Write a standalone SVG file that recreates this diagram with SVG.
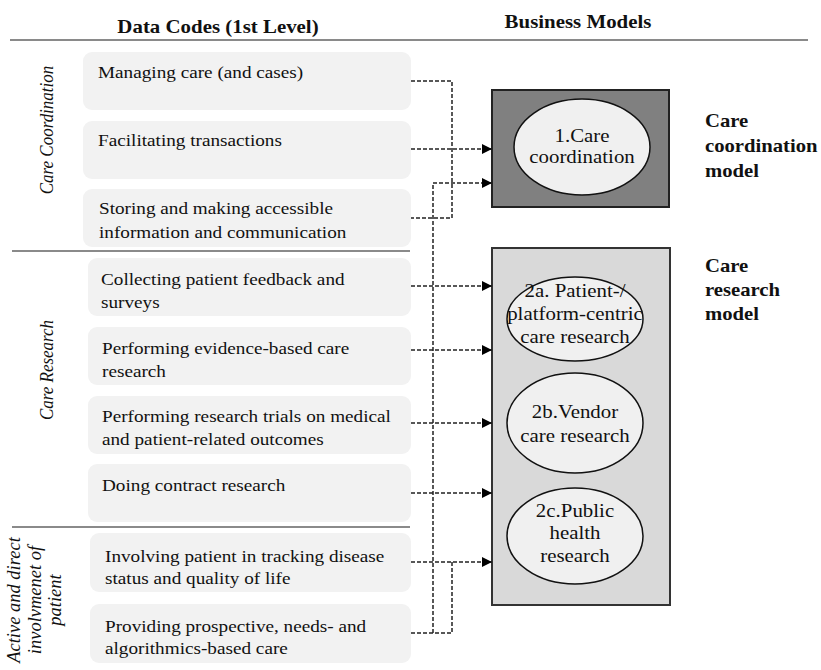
<svg xmlns="http://www.w3.org/2000/svg" width="821" height="670" viewBox="0 0 821 670">
<style>
.bg{fill:#ffffff}
.code rect{fill:#f2f2f2;stroke:none}
.t{font-family:"Liberation Serif","Times New Roman",serif;font-size:17px;fill:#111}
.h{font-family:"Liberation Serif","Times New Roman",serif;font-size:18.5px;font-weight:bold;fill:#111;text-anchor:middle}
.lab{font-family:"Liberation Serif","Times New Roman",serif;font-size:18px;font-weight:bold;fill:#111}
.cat{font-family:"Liberation Serif","Times New Roman",serif;font-size:17px;font-style:italic;fill:#111;text-anchor:middle}
.cat2{font-family:"Liberation Serif","Times New Roman",serif;font-size:18.5px;font-style:italic;fill:#111;text-anchor:middle}
.et{font-family:"Liberation Serif","Times New Roman",serif;font-size:18.5px;fill:#111;text-anchor:middle}
.sep{stroke:#8a8a8a;stroke-width:2;fill:none}
.ell{fill:#f0f0f0;stroke:#111;stroke-width:1.5}
.conn path{fill:none;stroke:#222;stroke-width:1.5;stroke-dasharray:4 2}
</style>
<defs>
<marker id="arr" markerUnits="userSpaceOnUse" markerWidth="10" markerHeight="10" refX="10" refY="5" orient="auto">
<path d="M0,0 L10,5 L0,10 z" fill="#000"/>
</marker>
</defs>
<rect class="bg" x="0" y="0" width="821" height="670"/>

<g id="headers">
<text class="h" transform="translate(218,33) scale(1.13 1)" x="0" y="0">Data Codes (1st Level)</text>
<text class="h" transform="translate(578,28) scale(1.13 1)" x="0" y="0">Business Models</text>
<path class="sep" d="M10,40 H808"/>
<path class="sep" d="M12,251 H410"/>
<path class="sep" d="M12,527 H410"/>
</g>

<g id="categories">
<text class="cat" transform="translate(53,130) rotate(-90) scale(1 1.13)" x="0" y="0">Care Coordination</text>
<text class="cat" transform="translate(53,370) rotate(-90) scale(1 1.13)" x="0" y="0">Care Research</text>
<text class="cat2" transform="translate(20,600) rotate(-90)" x="0" y="0">Active and direct</text>
<text class="cat2" transform="translate(41,600) rotate(-90)" x="0" y="0">involvmenet of</text>
<text class="cat2" transform="translate(61,600) rotate(-90)" x="0" y="0">patient</text>
</g>

<g id="code1" class="code"><rect x="83" y="52" width="328" height="58" rx="9"/>
<text class="t" transform="translate(98,78) scale(1.13 1)"><tspan x="0" y="0">Managing care (and cases)</tspan></text></g>
<g id="code2" class="code"><rect x="83" y="121" width="328" height="58" rx="9"/>
<text class="t" transform="translate(98,146) scale(1.13 1)"><tspan x="0" y="0">Facilitating transactions</tspan></text></g>
<g id="code3" class="code"><rect x="83" y="189" width="328" height="58" rx="9"/>
<text class="t" transform="translate(99,214) scale(1.13 1)"><tspan x="0" y="0">Storing and making accessible</tspan><tspan x="0" y="24">information and communication</tspan></text></g>
<g id="code4" class="code"><rect x="88" y="258" width="323" height="58" rx="9"/>
<text class="t" transform="translate(101,285) scale(1.13 1)"><tspan x="0" y="0">Collecting patient feedback and</tspan><tspan x="0" y="23">surveys</tspan></text></g>
<g id="code5" class="code"><rect x="88" y="327" width="323" height="58" rx="9"/>
<text class="t" transform="translate(102,354) scale(1.13 1)"><tspan x="0" y="0">Performing evidence-based care</tspan><tspan x="0" y="23">research</tspan></text></g>
<g id="code6" class="code"><rect x="88" y="396" width="323" height="58" rx="9"/>
<text class="t" transform="translate(102,422) scale(1.13 1)"><tspan x="0" y="0">Performing research trials on medical</tspan><tspan x="0" y="23">and patient-related outcomes</tspan></text></g>
<g id="code7" class="code"><rect x="88" y="464" width="323" height="58" rx="9"/>
<text class="t" transform="translate(102,491) scale(1.13 1)"><tspan x="0" y="0">Doing contract research</tspan></text></g>
<g id="code8" class="code"><rect x="90" y="533" width="321" height="59" rx="9"/>
<text class="t" transform="translate(105,562) scale(1.13 1)"><tspan x="0" y="0">Involving patient in tracking disease</tspan><tspan x="0" y="22">status and quality of life</tspan></text></g>
<g id="code9" class="code"><rect x="90" y="604" width="321" height="59" rx="9"/>
<text class="t" transform="translate(105,632) scale(1.13 1)"><tspan x="0" y="0">Providing prospective, needs- and</tspan><tspan x="0" y="22">algorithmics-based care</tspan></text></g>

<g id="model1">
<rect x="492" y="90" width="177" height="117" fill="#808080" stroke="#222" stroke-width="2"/>
<ellipse class="ell" cx="582" cy="147" rx="68" ry="48"/>
<text class="et" transform="translate(582,142) scale(1.13 1)"><tspan x="0" y="0">1.Care</tspan><tspan x="0" y="21">coordination</tspan></text>
<text class="lab" transform="translate(705,127) scale(1.15 1)"><tspan x="0" y="0">Care</tspan><tspan x="0" y="25">coordination</tspan><tspan x="0" y="50">model</tspan></text>
</g>

<g id="model2">
<rect x="492" y="248" width="178" height="357" fill="#d9d9d9" stroke="#333" stroke-width="2"/>
<text class="lab" transform="translate(705,272) scale(1.15 1)"><tspan x="0" y="0">Care</tspan><tspan x="0" y="24">research</tspan><tspan x="0" y="48">model</tspan></text>
</g>
<g id="model2a">
<ellipse class="ell" cx="575" cy="319" rx="68" ry="42"/>
<text class="et" transform="translate(575,297) scale(1.13 1)"><tspan x="0" y="0">2a. Patient-/</tspan><tspan x="0" y="23">platform-centric</tspan><tspan x="0" y="46">care research</tspan></text>
</g>
<g id="model2b">
<ellipse class="ell" cx="575" cy="423" rx="68" ry="50"/>
<text class="et" transform="translate(575,418) scale(1.13 1)"><tspan x="0" y="0">2b.Vendor</tspan><tspan x="0" y="24">care research</tspan></text>
</g>
<g id="model2c">
<ellipse class="ell" cx="575" cy="536" rx="68" ry="48"/>
<text class="et" transform="translate(575,517) scale(1.13 1)"><tspan x="0" y="0">2c.Public</tspan><tspan x="0" y="22.5">health</tspan><tspan x="0" y="45">research</tspan></text>
</g>

<g id="connectors" class="conn">
<path d="M411,81 H452 V218 H411"/>
<path d="M411,149 H492" marker-end="url(#arr)"/>
<path d="M433,633 V183 H492" marker-end="url(#arr)"/>
<path d="M411,286 H492" marker-end="url(#arr)"/>
<path d="M411,350 H492" marker-end="url(#arr)"/>
<path d="M411,423 H492" marker-end="url(#arr)"/>
<path d="M411,493 H492" marker-end="url(#arr)"/>
<path d="M411,562 H492" marker-end="url(#arr)"/>
<path d="M411,633 H452 V562"/>
</g>
</svg>
